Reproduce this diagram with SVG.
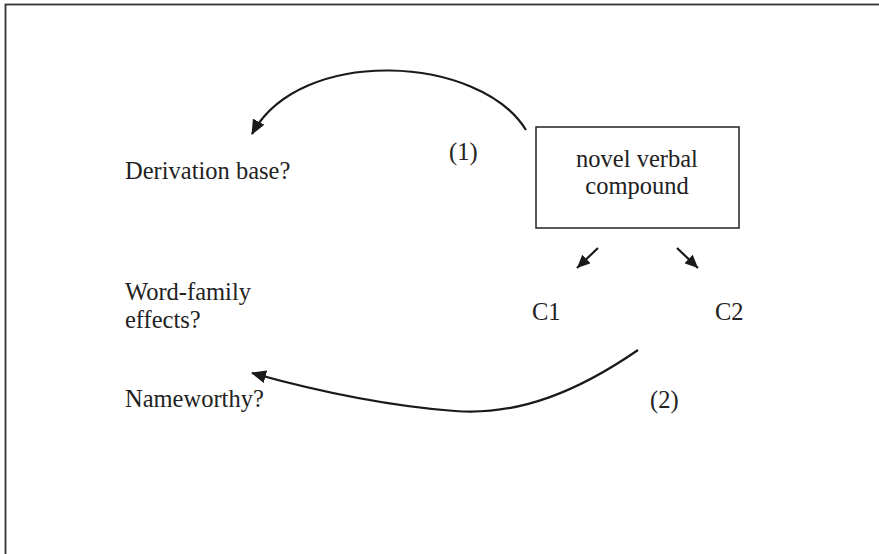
<svg xmlns="http://www.w3.org/2000/svg" width="879" height="554" viewBox="0 0 879 554">
<defs>
<style>
.t{font-family:"Liberation Serif","Times New Roman",serif;font-size:24.5px;fill:#222}
.c{fill:none;stroke:#1a1a1a;stroke-width:2.2}
</style>
<marker id="ah" markerWidth="15" markerHeight="13" refX="14" refY="6.5" orient="auto" markerUnits="userSpaceOnUse">
<path d="M0,0 L15,6.5 L0,13 Z" fill="#1a1a1a"/>
</marker>
<marker id="sh" markerWidth="13" markerHeight="12" refX="13" refY="6" orient="auto" markerUnits="userSpaceOnUse">
<path d="M0,0 L13,6 L0,12 Z" fill="#1a1a1a"/>
</marker>
</defs>
<rect x="0" y="0" width="879" height="554" fill="#fff"/>
<rect x="5.5" y="4.5" width="900" height="600" fill="none" stroke="#333" stroke-width="1.8"/>
<g id="connectors">
<path class="c" d="M526,130 C480,55 300,45 252,134" marker-end="url(#ah)"/>
<path class="c" d="M638,350 C580,390 520,416 455,411 C390,406 320,392 252,373" marker-end="url(#ah)"/>
<path class="c" d="M598,248 L577,268" marker-end="url(#sh)"/>
<path class="c" d="M677,248 L698,268" marker-end="url(#sh)"/>
</g>
<g id="compound">
<rect x="536" y="127" width="203" height="101" fill="none" stroke="#222" stroke-width="1.5"/>
<text class="t" x="637" y="167" text-anchor="middle">novel verbal</text>
<text class="t" x="637" y="194" text-anchor="middle">compound</text>
</g>
<g id="derivation"><text class="t" x="125" y="179">Derivation base?</text></g>
<g id="wordfamily"><text class="t" x="125" y="300">Word-family</text><text class="t" x="125" y="328">effects?</text></g>
<g id="nameworthy"><text class="t" x="125" y="407">Nameworthy?</text></g>
<g id="c1"><text class="t" x="532" y="320">C1</text></g>
<g id="c2"><text class="t" x="715" y="320">C2</text></g>
<g id="label1"><text class="t" x="449" y="160">(1)</text></g>
<g id="label2"><text class="t" x="650" y="408">(2)</text></g>
</svg>
